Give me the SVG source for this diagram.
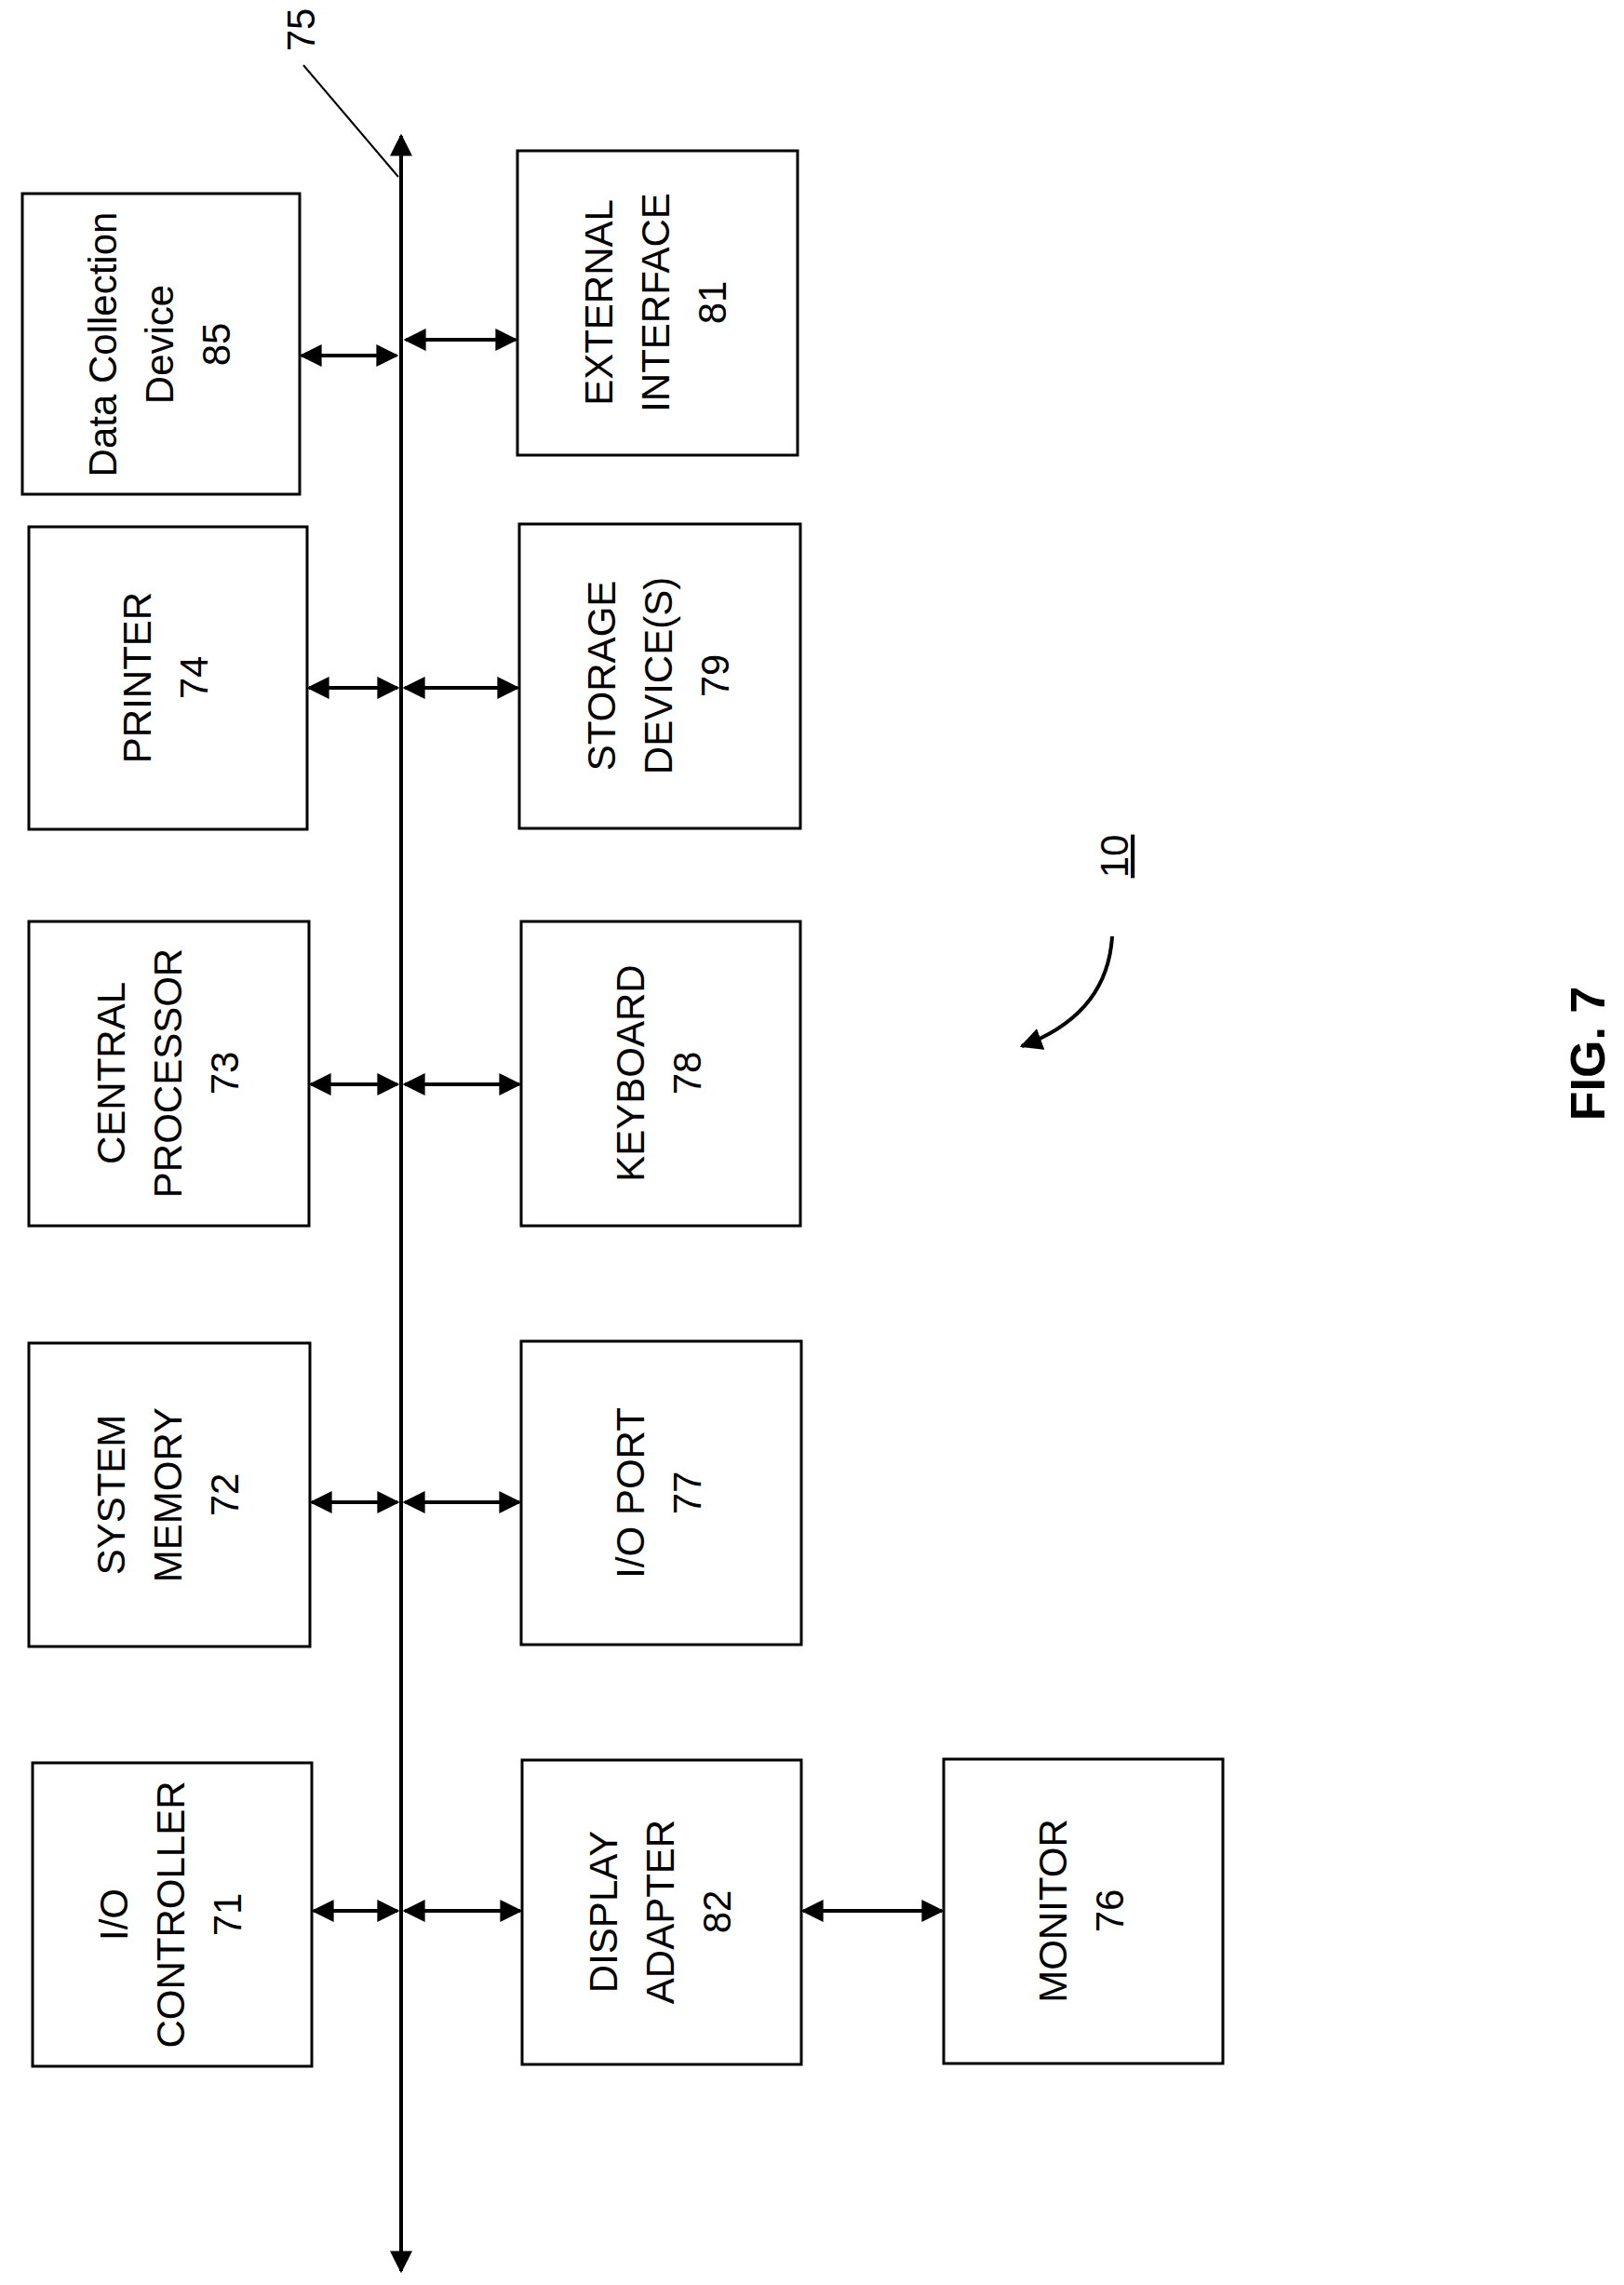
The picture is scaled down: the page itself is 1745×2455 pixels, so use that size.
<svg xmlns="http://www.w3.org/2000/svg" width="1745" height="2455" viewBox="0 0 1745 2455">
<style>
rect{fill:#fff;stroke:#000;stroke-width:3}
text{font-family:"Liberation Sans",Arial,sans-serif;font-size:42px;text-anchor:middle;fill:#000}
.c{stroke:#000;stroke-width:4;fill:none}
</style>
<defs>
<marker id="a" viewBox="0 0 10 10" refX="9" refY="5" markerWidth="6" markerHeight="6" orient="auto-start-reverse" markerUnits="strokeWidth"><path d="M0,0 L10,5 L0,10 z" fill="#000"/></marker>
</defs>
<rect width="1745" height="2455" style="stroke:none"/>
<g id="n85"><rect x="24" y="208" width="298" height="323"/><text transform="translate(173,370) rotate(-90)"><tspan x="0" y="-48">Data Collection</tspan><tspan x="0" y="13">Device</tspan><tspan x="0" y="74">85</tspan></text></g>
<g id="n74"><rect x="31" y="566" width="299" height="325"/><text transform="translate(180,728) rotate(-90)"><tspan x="0" y="-18">PRINTER</tspan><tspan x="0" y="43">74</tspan></text></g>
<g id="n73"><rect x="31" y="990" width="301" height="327"/><text transform="translate(182,1153) rotate(-90)"><tspan x="0" y="-48">CENTRAL</tspan><tspan x="0" y="13">PROCESSOR</tspan><tspan x="0" y="74">73</tspan></text></g>
<g id="n72"><rect x="31" y="1443" width="302" height="326"/><text transform="translate(182,1606) rotate(-90)"><tspan x="0" y="-48">SYSTEM</tspan><tspan x="0" y="13">MEMORY</tspan><tspan x="0" y="74">72</tspan></text></g>
<g id="n71"><rect x="35" y="1894" width="300" height="326"/><text transform="translate(185,2057) rotate(-90)"><tspan x="0" y="-48">I/O</tspan><tspan x="0" y="13">CONTROLLER</tspan><tspan x="0" y="74">71</tspan></text></g>
<g id="n81"><rect x="556" y="162" width="301" height="327"/><text transform="translate(706,325) rotate(-90)"><tspan x="0" y="-48">EXTERNAL</tspan><tspan x="0" y="13">INTERFACE</tspan><tspan x="0" y="74">81</tspan></text></g>
<g id="n79"><rect x="558" y="563" width="302" height="327"/><text transform="translate(709,726) rotate(-90)"><tspan x="0" y="-48">STORAGE</tspan><tspan x="0" y="13">DEVICE(S)</tspan><tspan x="0" y="74">79</tspan></text></g>
<g id="n78"><rect x="560" y="990" width="300" height="327"/><text transform="translate(710,1153) rotate(-90)"><tspan x="0" y="-18">KEYBOARD</tspan><tspan x="0" y="43">78</tspan></text></g>
<g id="n77"><rect x="560" y="1441" width="301" height="326"/><text transform="translate(710,1604) rotate(-90)"><tspan x="0" y="-18">I/O PORT</tspan><tspan x="0" y="43">77</tspan></text></g>
<g id="n82"><rect x="561" y="1891" width="300" height="327"/><text transform="translate(711,2054) rotate(-90)"><tspan x="0" y="-48">DISPLAY</tspan><tspan x="0" y="13">ADAPTER</tspan><tspan x="0" y="74">82</tspan></text></g>
<g id="n76"><rect x="1014" y="1890" width="300" height="327"/><text transform="translate(1164,2053) rotate(-90)"><tspan x="0" y="-18">MONITOR</tspan><tspan x="0" y="43">76</tspan></text></g>
<g id="connectors">
<line class="c" x1="431" y1="2440" x2="431" y2="146" marker-start="url(#a)" marker-end="url(#a)"/>
<line x1="326" y1="70" x2="428" y2="190" stroke="#000" stroke-width="2"/>
<line class="c" x1="324" y1="382" x2="426" y2="382" marker-start="url(#a)" marker-end="url(#a)"/>
<line class="c" x1="436" y1="365" x2="554" y2="365" marker-start="url(#a)" marker-end="url(#a)"/>
<line class="c" x1="332" y1="739" x2="427" y2="739" marker-start="url(#a)" marker-end="url(#a)"/>
<line class="c" x1="435" y1="739" x2="556" y2="739" marker-start="url(#a)" marker-end="url(#a)"/>
<line class="c" x1="334" y1="1165" x2="427" y2="1165" marker-start="url(#a)" marker-end="url(#a)"/>
<line class="c" x1="435" y1="1165" x2="558" y2="1165" marker-start="url(#a)" marker-end="url(#a)"/>
<line class="c" x1="335" y1="1614" x2="427" y2="1614" marker-start="url(#a)" marker-end="url(#a)"/>
<line class="c" x1="435" y1="1614" x2="558" y2="1614" marker-start="url(#a)" marker-end="url(#a)"/>
<line class="c" x1="337" y1="2053" x2="427" y2="2053" marker-start="url(#a)" marker-end="url(#a)"/>
<line class="c" x1="435" y1="2053" x2="559" y2="2053" marker-start="url(#a)" marker-end="url(#a)"/>
<line class="c" x1="863" y1="2053" x2="1012" y2="2053" marker-start="url(#a)" marker-end="url(#a)"/>
<path class="c" d="M1195,1006 Q1190,1090 1098,1124" marker-end="url(#a)"/>
</g>
<text transform="translate(324,32) rotate(-90)" y="14">75</text>
<text transform="translate(1198,920) rotate(-90)" y="14" text-decoration="underline">10</text>
<text transform="translate(1706,1132) rotate(-90)" y="18" style="font-weight:bold;font-size:52px">FIG. 7</text>
</svg>
